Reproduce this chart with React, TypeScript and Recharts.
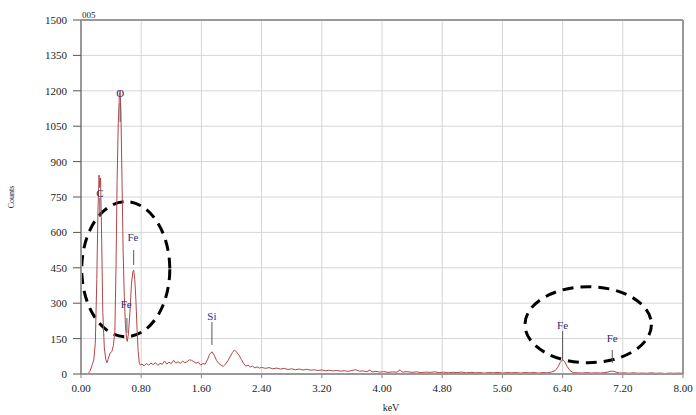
import {
  LineChart,
  Line,
  XAxis,
  YAxis,
  CartesianGrid,
  ReferenceLine,
  ReferenceArea,
  ReferenceDot
} from "recharts";

// EDS spectrum
const energyKeV = [
  0.0, 0.05, 0.09, 0.12, 0.15, 0.17, 0.19, 0.21, 0.225, 0.24, 0.25, 0.26, 0.275, 0.29, 0.31, 0.33, 0.345, 0.36,
  0.385, 0.41, 0.43, 0.45, 0.465, 0.48, 0.495, 0.51, 0.52, 0.53, 0.545, 0.56, 0.575, 0.59, 0.605, 0.615, 0.63,
  0.65, 0.67, 0.69, 0.7, 0.715, 0.73, 0.745, 0.76, 0.775, 0.79, 0.81, 0.84, 0.87, 0.9, 0.93, 0.96, 0.99, 1.02,
  1.05, 1.08, 1.11, 1.14, 1.17, 1.2, 1.23, 1.26, 1.29, 1.32, 1.35, 1.38, 1.41, 1.44, 1.47, 1.5, 1.53, 1.56, 1.59,
  1.62, 1.65, 1.68, 1.71, 1.74, 1.77, 1.8, 1.83, 1.86, 1.89, 1.92, 1.95, 1.98, 2.01, 2.04, 2.07, 2.1, 2.13, 2.16,
  2.19, 2.22, 2.25, 2.28, 2.31, 2.34, 2.37, 2.4, 2.45, 2.5, 2.55, 2.6, 2.65, 2.7, 2.75, 2.8, 2.85, 2.9, 2.95, 3.0,
  3.05, 3.1, 3.15, 3.2, 3.25, 3.3, 3.35, 3.4, 3.45, 3.5, 3.55, 3.6, 3.65, 3.7, 3.75, 3.8, 3.84, 3.87, 3.92, 3.97,
  4.02, 4.08, 4.14, 4.2, 4.24, 4.27, 4.33, 4.4, 4.46, 4.52, 4.58, 4.64, 4.7, 4.76, 4.82, 4.88, 4.94, 5.0, 5.06,
  5.12, 5.18, 5.24, 5.3, 5.36, 5.42, 5.48, 5.54, 5.6, 5.66, 5.72, 5.78, 5.84, 5.9, 5.96, 6.02, 6.08, 6.14, 6.2,
  6.25, 6.3, 6.34, 6.37, 6.4, 6.43, 6.46, 6.5, 6.54, 6.6, 6.66, 6.72, 6.78, 6.84, 6.9, 6.96, 7.0, 7.04, 7.08,
  7.12, 7.16, 7.22, 7.28, 7.34, 7.4, 7.46, 7.52, 7.58, 7.64, 7.7, 7.76, 7.82, 7.88, 7.94, 8.0
];

const counts = [
  0, 0, 0, 12, 40, 60, 130, 400, 690, 843, 790, 830, 560, 260, 110, 60, 48, 62,
  88, 95, 120, 180, 450, 820, 1060, 1180, 1200, 1120, 820, 520, 330, 210, 150, 138, 170,
  260, 380, 435, 440, 400, 310, 190, 95, 45, 38, 42, 35, 44, 38, 46, 40, 48, 37,
  45, 41, 55, 42, 50, 44, 58, 46, 52, 45, 55, 48, 52, 60, 58, 52, 46, 50, 38,
  44, 42, 60, 84, 94, 80, 58, 45, 38, 32, 42, 55, 72, 90, 102, 92, 80, 62, 45,
  33, 38, 30, 33, 26, 30, 25, 28, 24, 27, 22, 25, 21, 24, 19, 22, 18, 21, 17, 20,
  16, 18, 15, 17, 14, 16, 13, 15, 12, 14, 11, 15, 18, 12, 13, 10, 17, 9, 11, 8,
  10, 7, 9, 8, 18, 8, 10, 7, 9, 6, 8, 7, 9, 6, 8, 5, 7, 6, 8,
  5, 7, 5, 6, 4, 6, 5, 7, 4, 6, 5, 6, 4, 6, 5, 6, 4, 6, 5,
  8, 14, 30, 50, 60, 52, 32, 14, 6, 5, 4, 6, 4, 5, 4, 6, 8, 12, 11,
  7, 4, 5, 3, 5, 3, 4, 3, 5, 3, 4, 2, 4, 3, 4, 3
];

const xTicks = [0, 0.8, 1.6, 2.4, 3.2, 4.0, 4.8, 5.6, 6.4, 7.2, 8.0];
const yTicks = [0, 150, 300, 450, 600, 750, 900, 1050, 1200, 1350, 1500];

// element markers: label, label position, marker line start/end
const peakNames = ["C", "O", "Fe", "Fe", "Si", "Fe", "Fe"];
const peakLabelX = [0.25, 0.52, 0.69, 0.6, 1.74, 6.4, 7.06];
const peakLabelY = [767, 1191, 580, 297, 246, 208, 153];
const peakLineX = [0.25, 0.52, 0.7, 0.61, 1.74, 6.4, 7.06];
const peakLineTop = [746, 1148, 525, 237, 220, 182, 102];
const peakLineBottom = [665, 1068, 462, 174, 123, 59, 47];

// dashed highlight ellipses [x1, x2, y1, y2]
const highlightAreas = [
  [0.01, 1.18, 158, 730],
  [5.9, 7.58, 48, 370]
];

const data = energyKeV.map((e, i) => ({ kev: e, counts: counts[i] }));

const font = "'Liberation Serif', 'Times New Roman', serif";
const labelColor = "#2b2b78";

const ellipseShape = (props: any) => {
  const { x, y, width, height } = props;
  return (
    <ellipse
      cx={x + width / 2}
      cy={y + height / 2}
      rx={Math.abs(width) / 2}
      ry={Math.abs(height) / 2}
      fill="none"
      stroke="#000"
      strokeWidth={3}
      strokeDasharray="11 7"
    />
  );
};

const countsLabel = (props: any) => {
  const vb = props.viewBox || {};
  const cy = vb.y + vb.height / 2;
  return (
    <text
      x={14}
      y={cy}
      transform={`rotate(-90 14 ${cy})`}
      textAnchor="middle"
      fontSize={8}
      fontFamily={font}
      fill="#222"
    >
      Counts
    </text>
  );
};

const kevLabel = (props: any) => {
  const vb = props.viewBox || {};
  return (
    <text x={vb.x + vb.width / 2 + 9} y={411} textAnchor="middle" fontSize={10} fontFamily={font} fill="#222">
      keV
    </text>
  );
};

export default function App() {
  return (
    <div style={{ position: "absolute", left: 0, top: 0, width: 696, height: 415, background: "#fff" }}>
      <div
        style={{
          position: "absolute",
          left: 82,
          top: 11,
          fontSize: 9,
          fontFamily: font,
          color: "#222",
          lineHeight: "9px"
        }}
      >
        005
      </div>
      <LineChart width={696} height={415} data={data} margin={{ top: 20, right: 13, left: 0, bottom: 0 }}>
        <CartesianGrid stroke="#d6d6d6" strokeWidth={1} horizontalValues={yTicks} verticalValues={xTicks} />
        <XAxis
          dataKey="kev"
          type="number"
          domain={[0, 8]}
          ticks={xTicks}
          tickFormatter={(v: number) => v.toFixed(2)}
          height={41}
          axisLine={{ stroke: "#999", strokeWidth: 2 }}
          tickLine={{ stroke: "#888" }}
          tickSize={4}
          tickMargin={6}
          tick={{ fontSize: 11, fontFamily: font, fill: "#222" }}
          label={{ content: kevLabel }}
        />
        <YAxis
          type="number"
          domain={[0, 1500]}
          ticks={yTicks}
          width={81}
          axisLine={{ stroke: "#999", strokeWidth: 2 }}
          tickLine={{ stroke: "#555" }}
          tickSize={8}
          tickMargin={6}
          tick={{ fontSize: 11, fontFamily: font, fill: "#222" }}
          label={{ content: countsLabel }}
        />
        <ReferenceLine y={1500} stroke="#999" strokeWidth={2} />
        <ReferenceLine x={8} stroke="#999" strokeWidth={2} />
        <Line
          type="linear"
          dataKey="counts"
          stroke="#b0474a"
          strokeWidth={1}
          dot={false}
          isAnimationActive={false}
        />
        {peakNames.map((name, i) => (
          <ReferenceLine
            key={`l${i}`}
            segment={[
              { x: peakLineX[i], y: peakLineTop[i] },
              { x: peakLineX[i], y: peakLineBottom[i] }
            ]}
            stroke="#555"
            strokeWidth={1}
          />
        ))}
        {peakNames.map((name, i) => (
          <ReferenceDot
            key={`d${i}`}
            x={peakLabelX[i]}
            y={peakLabelY[i]}
            r={0}
            stroke="none"
            fill="none"
            label={{
              value: name,
              position: "center",
              fontSize: 11,
              fontFamily: font,
              fill: labelColor
            }}
          />
        ))}
        {highlightAreas.map((a, i) => (
          <ReferenceArea key={`a${i}`} x1={a[0]} x2={a[1]} y1={a[2]} y2={a[3]} shape={ellipseShape} />
        ))}
      </LineChart>
    </div>
  );
}
